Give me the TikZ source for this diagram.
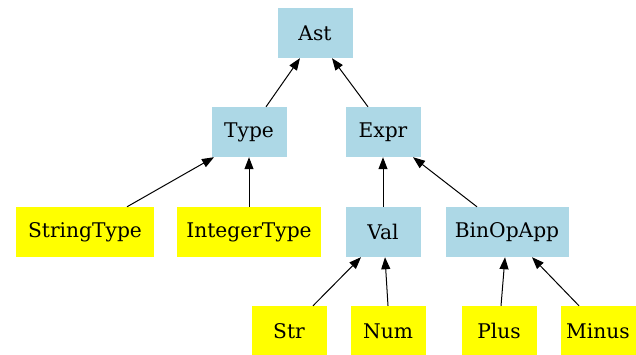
\documentclass[tikz,border=0pt]{standalone}
\usepackage{fontspec}
\setmainfont{DejaVu Serif}
\usetikzlibrary{arrows.meta}
\definecolor{lblue}{HTML}{ADD8E6}
\definecolor{yel}{HTML}{FFFF00}
\tikzset{
  box/.style={minimum width=75pt, minimum height=50pt, inner sep=0pt, font=\fontsize{20.2pt}{23pt}\selectfont},
  bluebox/.style={box, fill=lblue},
  yelbox/.style={box, fill=yel},
  arr/.style={-{Triangle[length=12pt,width=9pt]}, line width=1pt, black}
}
\begin{document}
\begin{tikzpicture}[x=1pt,y=-1pt]
\useasboundingbox (0,0) rectangle (636,354);
\node[bluebox] (ast) at (315,33) {Ast};
\node[bluebox] (type) at (249,132) {Type};
\node[bluebox] (expr) at (383,132) {Expr};
\node[yelbox, minimum width=138pt] (stringtype) at (85,232) {StringType};
\node[yelbox, minimum width=144pt] (integertype) at (249,232) {IntegerType};
\node[bluebox] (val) at (383,232) {Val};
\node[bluebox, minimum width=123pt] (binopapp) at (507,232) {BinOpApp};
\node[yelbox] (str) at (289,331) {Str};
\node[yelbox] (num) at (388,331) {Num};
\node[yelbox] (plus) at (499,331) {Plus};
\node[yelbox] (minus) at (598,331) {Minus};

\draw[arr] ([xshift=17pt]type.north) -- ([xshift=-15pt]ast.south);
\draw[arr] ([xshift=-15pt]expr.north) -- ([xshift=17pt]ast.south);
\draw[arr] ([xshift=42pt]stringtype.north) -- ([xshift=-35pt]type.south);
\draw[arr] (integertype.north) -- (type.south);
\draw[arr] (val.north) -- (expr.south);
\draw[arr] ([xshift=-30pt]binopapp.north) -- ([xshift=30pt]expr.south);
\draw[arr] ([xshift=24pt]str.north) -- ([xshift=-22pt]val.south);
\draw[arr] (num.north) -- ([xshift=2pt]val.south);
\draw[arr] ([xshift=2pt]plus.north) -- ([xshift=-2pt]binopapp.south);
\draw[arr] ([xshift=-19pt]minus.north) -- ([xshift=25pt]binopapp.south);
\end{tikzpicture}
\end{document}
